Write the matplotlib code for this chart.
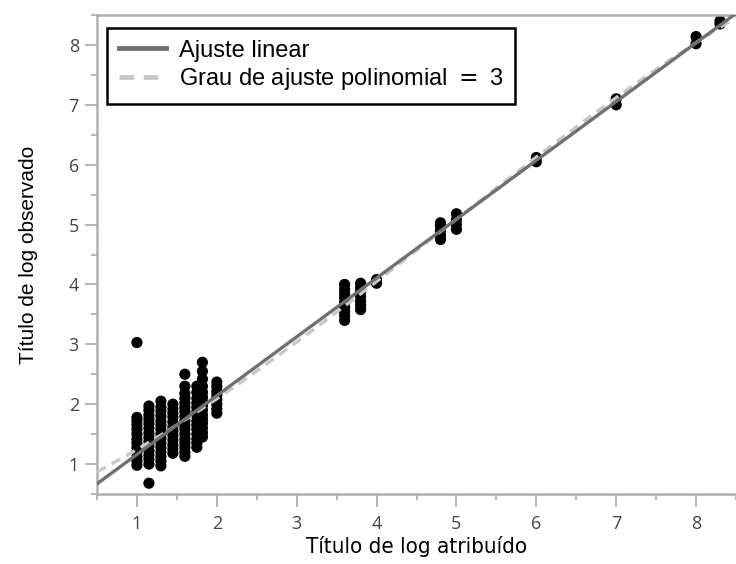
import matplotlib
matplotlib.use("Agg")
import matplotlib.pyplot as plt
import numpy as np

# Assigned log titre (x) and the observed log titres measured at each level (y)
assigned = [1.0, 1.15, 1.3, 1.45, 1.6, 1.75, 1.82, 2.0,
            3.6, 3.8, 4.0, 4.8, 5.0, 6.0, 7.0, 8.0, 8.3]
observed = [
    [0.98, 1.05, 1.12, 1.2, 1.28, 1.35, 1.42, 1.5, 1.58, 1.65, 1.72, 1.78, 3.03],
    [0.68, 1.0, 1.08, 1.15, 1.22, 1.3, 1.38, 1.45, 1.52, 1.6, 1.68, 1.75, 1.82, 1.9, 1.97],
    [0.97, 1.05, 1.12, 1.2, 1.28, 1.35, 1.43, 1.5, 1.58, 1.65, 1.72, 1.8, 1.88, 1.95, 2.05],
    [1.18, 1.25, 1.32, 1.4, 1.48, 1.55, 1.62, 1.7, 1.78, 1.85, 1.92, 2.0],
    [1.13, 1.2, 1.28, 1.35, 1.42, 1.5, 1.58, 1.65, 1.72, 1.8, 1.88, 1.95, 2.02, 2.1, 2.18, 2.3, 2.5],
    [1.28, 1.35, 1.42, 1.5, 1.58, 1.65, 1.72, 1.8, 1.88, 1.95, 2.02, 2.1, 2.2, 2.3],
    [1.45, 1.52, 1.6, 1.68, 1.75, 1.82, 1.9, 1.98, 2.05, 2.12, 2.2, 2.3, 2.42, 2.55, 2.7],
    [1.85, 1.92, 2.0, 2.08, 2.15, 2.22, 2.3, 2.37],
    [3.4, 3.48, 3.55, 3.62, 3.7, 3.78, 3.85, 3.92, 4.0],
    [3.58, 3.65, 3.72, 3.8, 3.88, 3.95, 4.02],
    [4.02, 4.08],
    [4.75, 4.82, 4.9, 4.98, 5.03],
    [4.92, 5.0, 5.08, 5.18],
    [6.05, 6.12],
    [7.0, 7.1],
    [8.02, 8.14],
    [8.35, 8.4],
]

# fit coefficients (highest power first)
linear_fit = [0.982, 0.179]
cubic_fit = [-0.0059, 0.0856, 0.631, 0.533]

x_ticks = [1, 2, 3, 4, 5, 6, 7, 8]
y_ticks = [1, 2, 3, 4, 5, 6, 7, 8]
x_label = "Título de log atribuído"
y_label = "Título de log observado"
legend_labels = ["Ajuste linear", "Grau de ajuste polinomial $=$ 3"]

# flatten the columns into x/y pairs
xs = np.concatenate([[a] * len(obs) for a, obs in zip(assigned, observed)])
ys = np.concatenate(observed)

fig = plt.figure(figsize=(7.36, 5.64), dpi=100)
ax = fig.add_axes([97 / 736, 70 / 564, 639 / 736, 479 / 564])

ax.scatter(xs, ys, s=65, color="black", edgecolors="none", zorder=2)

ax.set_xlim(0.5, 8.49)
ax.set_ylim(0.5, 8.5)

# fit lines across the full x range
xx = np.linspace(0.5, 8.49, 200)
ax.plot(xx, np.polyval(cubic_fit, xx), color="#c8c8c8", lw=2.4, ls=(0, (3, 2)),
        label=legend_labels[1], zorder=3)
ax.plot(xx, np.polyval(linear_fit, xx), color="#707070", lw=2.4,
        label=legend_labels[0], zorder=4)

# axes styling
for side in ["left", "bottom", "top"]:
    ax.spines[side].set_color("#b0b0b0")
    ax.spines[side].set_linewidth(1.8)
ax.spines["right"].set_visible(False)

ax.set_xticks(x_ticks)
ax.set_yticks(y_ticks)
ax.set_xticks(np.arange(0.5, 8.6, 0.5), minor=True)
ax.set_yticks(np.arange(0.5, 8.6, 0.5), minor=True)
ax.tick_params(which="major", length=9, width=1.3, color="#b0b0b0",
               labelsize=13, labelcolor="#444444", pad=4)
ax.tick_params(which="minor", length=4.5, width=1.3, color="#b0b0b0")
ax.tick_params(axis="x", pad=6)
for lab in ax.get_xticklabels() + ax.get_yticklabels():
    lab.set_family(["Open Sans", "DejaVu Sans"])

ax.set_xlabel(x_label, fontsize=16, family="DejaVu Sans", fontstretch="condensed",
              labelpad=2)
ax.set_ylabel(y_label, fontsize=15, family=["Liberation Sans", "DejaVu Sans"],
              labelpad=22)

handles, labels = ax.get_legend_handles_labels()
order = [1, 0]
leg = ax.legend([handles[i] for i in order], [labels[i] for i in order],
                loc="upper left", bbox_to_anchor=(0.016, 0.973), borderaxespad=0,
                fancybox=False, framealpha=1, edgecolor="black",
                prop={"family": ["Liberation Sans", "DejaVu Sans"], "size": 17},
                handlelength=2.0, labelspacing=0.2, borderpad=0.5, handletextpad=0.55)
leg.get_frame().set_linewidth(1.8)
for h in leg.legend_handles:
    h.set_linewidth(3.5)

fig.savefig("out.png", dpi=100)
